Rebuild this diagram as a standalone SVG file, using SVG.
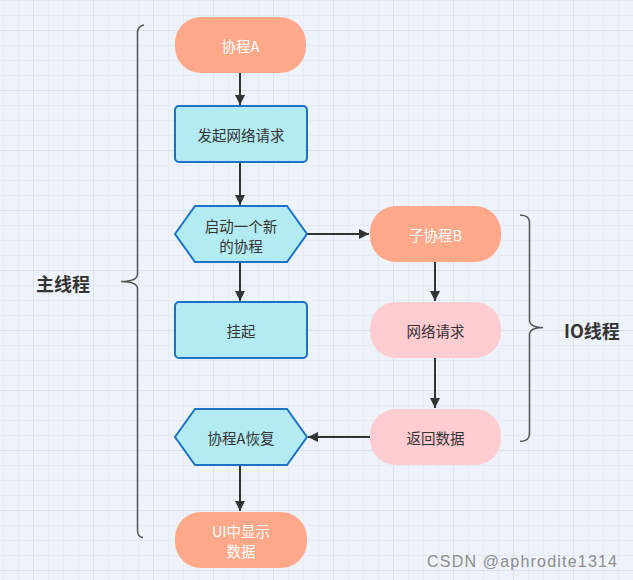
<svg xmlns="http://www.w3.org/2000/svg" width="633" height="580" viewBox="0 0 633 580">
<defs>
<pattern id="minor" x="3" y="0" width="15" height="15" patternUnits="userSpaceOnUse">
<path d="M0 0V15M0 0H15" fill="none" stroke="#dce2ec" stroke-width="1"/>
</pattern>
<pattern id="major" x="33" y="30" width="60" height="60" patternUnits="userSpaceOnUse">
<path d="M0 0V60M0 0H60" fill="none" stroke="#d3d9e4" stroke-width="1"/>
</pattern>
<marker id="arr" viewBox="0 0 10 10" refX="10" refY="5" markerWidth="5" markerHeight="5" orient="auto" markerUnits="strokeWidth">
<path d="M0 0L10 5L0 10Z" fill="#333"/>
</marker>
<style>
.sal{fill:#ffa98a}
.pink{fill:#ffccd1}
.cyan{fill:#b3ebf2;stroke:#1b72c6;stroke-width:2}
.t{font-family:"Noto Sans CJK SC","Liberation Sans",sans-serif;font-size:14.5px;text-anchor:middle;dominant-baseline:central;fill:#333}
.w{fill:#fff}
.lbl{font-family:"Noto Sans CJK SC","Liberation Sans",sans-serif;font-size:18px;font-weight:bold;fill:#333;dominant-baseline:central}
.c{fill:none;stroke:#333;stroke-width:2}
.brace{fill:none;stroke:#555;stroke-width:1.5}
</style>
</defs>
<rect width="633" height="580" fill="#eef2fa"/>
<rect width="633" height="580" fill="url(#minor)"/>
<rect width="633" height="580" fill="url(#major)"/>

<g id="connectors">
<line class="c" x1="240" y1="73" x2="240" y2="105" marker-end="url(#arr)"/>
<line class="c" x1="240" y1="162" x2="240" y2="205" marker-end="url(#arr)"/>
<line class="c" x1="307" y1="234" x2="369" y2="234" marker-end="url(#arr)"/>
<line class="c" x1="240" y1="262" x2="240" y2="301" marker-end="url(#arr)"/>
<line class="c" x1="435" y1="262" x2="435" y2="301" marker-end="url(#arr)"/>
<line class="c" x1="435" y1="358" x2="435" y2="408" marker-end="url(#arr)"/>
<line class="c" x1="370" y1="437" x2="308" y2="437" marker-end="url(#arr)"/>
<line class="c" x1="240" y1="465" x2="240" y2="511" marker-end="url(#arr)"/>
</g>

<g id="brace-main">
<path class="brace" d="M144 25Q137.5 26 137.5 33V274Q137.5 281.5 121 281.5Q137.5 281.5 137.5 289V530Q137.5 537 143 537.5"/>
<text class="lbl" x="36" y="283">主线程</text>
</g>
<g id="brace-io">
<path class="brace" d="M520 215Q529.5 215.5 529.5 222V320Q529.5 327.5 543 327.5Q529.5 327.5 529.5 335V434Q529.5 441 520 441.5"/>
<text class="lbl" x="564" y="330">IO线程</text>
</g>

<g id="node-a">
<rect class="sal" x="175" y="17" width="131" height="56" rx="26"/>
<text class="t w" x="240.5" y="45">协程A</text>
</g>
<g id="node-req">
<rect class="cyan" x="175" y="106" width="132" height="56" rx="4"/>
<text class="t" x="241" y="134">发起网络请求</text>
</g>
<g id="node-start">
<polygon class="cyan" points="175,234 195,206 287,206 307,234 287,262 195,262"/>
<text class="t" x="241" y="225">启动一个新</text>
<text class="t" x="241" y="245">的协程</text>
</g>
<g id="node-b">
<rect class="sal" x="370" y="206" width="131" height="56" rx="26"/>
<text class="t w" x="435.5" y="234">子协程B</text>
</g>
<g id="node-suspend">
<rect class="cyan" x="175" y="302" width="132" height="56" rx="4"/>
<text class="t" x="241" y="330">挂起</text>
</g>
<g id="node-net">
<rect class="pink" x="370" y="302" width="131" height="56" rx="26"/>
<text class="t" x="435.5" y="330">网络请求</text>
</g>
<g id="node-return">
<rect class="pink" x="370" y="409" width="131" height="56" rx="26"/>
<text class="t" x="435.5" y="437">返回数据</text>
</g>
<g id="node-resume">
<polygon class="cyan" points="175,437 195,409 287,409 307,437 287,465 195,465"/>
<text class="t" x="241" y="437">协程A恢复</text>
</g>
<g id="node-ui">
<rect class="sal" x="175" y="512" width="132" height="56" rx="26"/>
<text class="t w" x="241" y="530">UI中显示</text>
<text class="t w" x="241" y="550">数据</text>
</g>
<text x="427" y="561" font-family="Liberation Sans, sans-serif" font-size="16" fill="#8c8c8c" dominant-baseline="central" textLength="190">CSDN @aphrodite1314</text>
</svg>
